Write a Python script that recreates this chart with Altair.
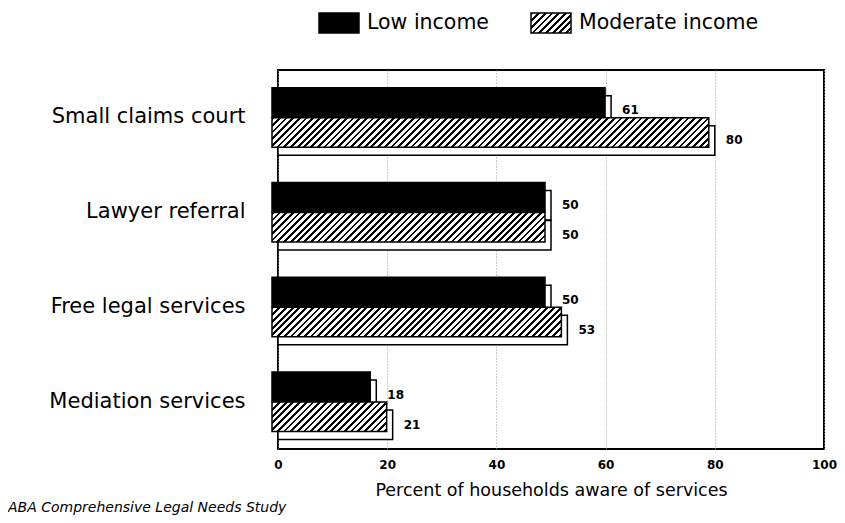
import altair as alt
import pandas as pd

# ---- data ----
categories = ["Small claims court", "Lawyer referral", "Free legal services", "Mediation services"]
series = ["Low income", "Moderate income"]
low_income = [61, 50, 50, 18]
moderate_income = [80, 50, 53, 21]
x_ticks = [0, 20, 40, 60, 80, 100]
x_title = "Percent of households aware of services"
source_note = "ABA Comprehensive Legal Needs Study"

rows = []
for c, lo, mo in zip(categories, low_income, moderate_income):
    rows.append({"category": c, "series": series[0], "value": lo})
    rows.append({"category": c, "series": series[1], "value": mo})
df = pd.DataFrame(rows)

# ---- styling ----
W, H = 546, 379
PX = W / 100.0
BAR = 29.5
DEPTH_X, DEPTH_Y = 6, 8
FONT = "DejaVu Sans"

# diagonal hatch built as a hard-stop linear gradient (t = (x+y)/L in pixels)
L = 500.0
PERIOD = 6.7
BLACK_FR = 0.42
stops = []
k = 0
while k * PERIOD < L:
    a = (k * PERIOD) / L
    b = min((k * PERIOD + BLACK_FR * PERIOD) / L, 1.0)
    stops += [
        "{offset:%.5f,color:'white'}" % a,
        "{offset:%.5f,color:'black'}" % a,
        "{offset:%.5f,color:'black'}" % b,
        "{offset:%.5f,color:'white'}" % b,
    ]
    k += 1
STOPS = "[" + ",".join(stops) + "]"

wexpr = "(datum.value*%g)" % PX
bar_hatch = (
    "{gradient:'linear',x1:0,y1:0,"
    "x2:%g*%s/(%s*%s+%g),"
    "y2:%g*%g/(%s*%s+%g),"
    "stops:%s}"
) % (L, wexpr, wexpr, wexpr, BAR * BAR, L, BAR, wexpr, wexpr, BAR * BAR, STOPS)

SW, SH = 40.0, 20.0
legend_hatch = "{gradient:'linear',x1:0,y1:0,x2:%g,y2:%g,stops:%s}" % (
    L * SW / (SW * SW + SH * SH), L * SH / (SW * SW + SH * SH), STOPS)

base = alt.Chart(df)

x_enc = alt.X(
    "value:Q",
    scale=alt.Scale(domain=[0, 100], nice=False),
    axis=alt.Axis(
        values=x_ticks, title=x_title, ticks=False, domain=False,
        grid=True, gridDash=[1, 2], gridColor="#999", gridWidth=1,
        labelFont=FONT, labelFontSize=12, labelFontWeight="bold", labelColor="black",
        labelPadding=10, labelFlush=False,
        titleFont=FONT, titleFontSize=17.5, titleFontWeight="normal",
        titleColor="black", titlePadding=11,
    ),
)
y_enc = alt.Y(
    "category:N", sort=categories,
    scale=alt.Scale(paddingInner=0, paddingOuter=0),
    axis=alt.Axis(
        title=None, ticks=False, domain=False, grid=False, tickSize=0,
        labelFont=FONT, labelFontSize=21, labelColor="black", labelPadding=33,
        labelLimit=400,
    ),
)

low = base.transform_filter(alt.datum.series == series[0])
mod = base.transform_filter(alt.datum.series == series[1])

back_low = low.mark_bar(size=BAR, yOffset=-15 + DEPTH_Y, fill="white",
                        stroke="black", strokeWidth=1.5).encode(x=x_enc, y=y_enc)
front_low = low.mark_bar(size=BAR, yOffset=-15, xOffset=-DEPTH_X, x2Offset=-DEPTH_X,
                         stroke="black", strokeWidth=1.5).encode(
    x=x_enc, y=y_enc,
    fill=alt.Fill(
        "series:N",
        scale=alt.Scale(domain=series, range=["black", {"expr": legend_hatch}]),
        legend=alt.Legend(
            title=None, orient="none", legendX=40, legendY=-68,
            direction="horizontal",
            symbolType="M-1,-0.5H1V0.5H-1Z", symbolSize=1600,
            symbolStrokeColor="black", symbolStrokeWidth=1.5,
            labelFont=FONT, labelFontSize=20.5, labelColor="black",
            labelOffset=7, columnPadding=39, labelLimit=400,
        ),
    ),
)
back_mod = mod.mark_bar(size=BAR, yOffset=15 + DEPTH_Y, fill="white",
                        stroke="black", strokeWidth=1.5).encode(x=x_enc, y=y_enc)
front_mod = mod.mark_bar(size=BAR, yOffset=15, xOffset=-DEPTH_X, x2Offset=-DEPTH_X,
                         stroke="black", strokeWidth=1.5).encode(
    x=x_enc, y=y_enc, fill=alt.value({"expr": bar_hatch}))

txt_low = low.mark_text(align="left", baseline="middle", dx=11, dy=-15 + DEPTH_Y,
                        font=FONT, fontSize=12, fontWeight="bold", color="black").encode(
    x=x_enc, y=y_enc, text=alt.Text("value:Q"))
txt_mod = mod.mark_text(align="left", baseline="middle", dx=11, dy=15 + DEPTH_Y,
                        font=FONT, fontSize=12, fontWeight="bold", color="black").encode(
    x=x_enc, y=y_enc, text=alt.Text("value:Q"))

chart = alt.layer(back_low, front_low, back_mod, front_mod, txt_low, txt_mod).properties(
    width=W, height=H,
    autosize=alt.AutoSizeParams(type="none"),
    padding={"left": 270, "top": 62, "right": 13, "bottom": 66},
    title=alt.TitleParams(
        source_note, orient="bottom", anchor="start", frame="group",
        dx=-270, offset=2, font=FONT, fontSize=14, fontStyle="italic",
        fontWeight="normal", color="black",
    ),
).configure(background="white").configure_view(stroke="black", strokeWidth=2)

chart.save("out.html", embed_options={"renderer": "svg", "actions": False})
